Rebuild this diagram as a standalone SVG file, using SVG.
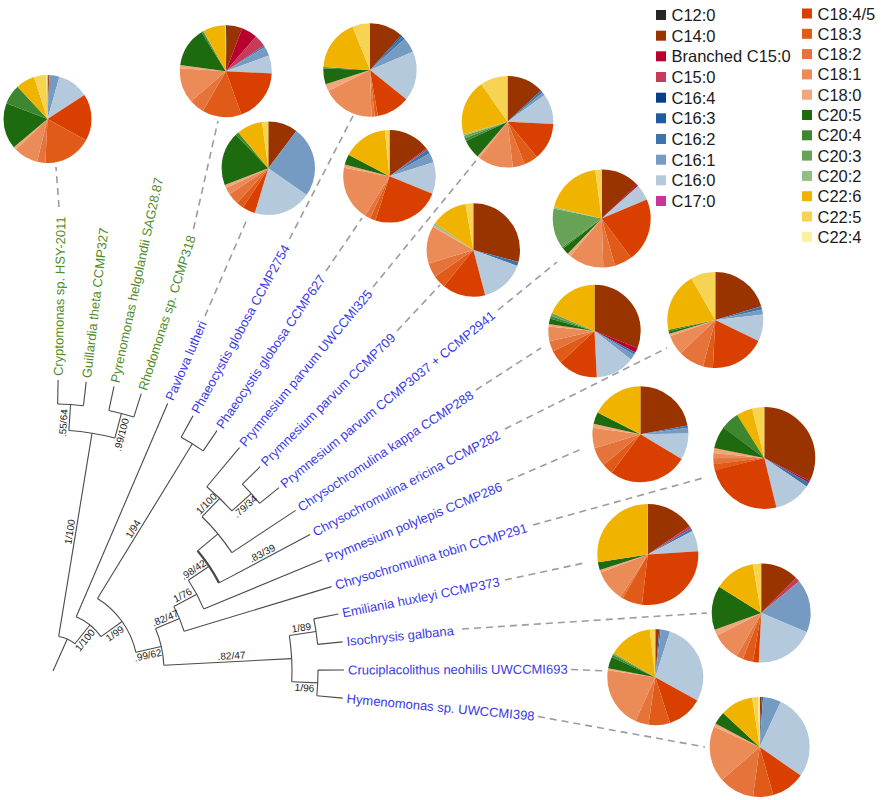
<svg xmlns="http://www.w3.org/2000/svg" width="884" height="800" viewBox="0 0 884 800">
<style>
.t{fill:none;stroke:#4a4a4a;stroke-width:1.1}
.tk{stroke-width:2.2}
.d{fill:none;stroke:#9c9c9c;stroke-width:1.6;stroke-dasharray:7 5}
.g{font-family:"Liberation Sans",Arial,sans-serif;font-size:13px;fill:#4e8c2a}
.b{font-family:"Liberation Sans",Arial,sans-serif;font-size:13px;fill:#3a3ae6}
.sv{font-family:"Liberation Sans",Arial,sans-serif;font-size:10px;fill:#1a1a1a;text-anchor:middle}
.lg{font-family:"Liberation Sans",Arial,sans-serif;font-size:16.5px;fill:#1a1a1a}
.k12{stroke:#262626;fill:#262626}
.k14{stroke:#993300;fill:#993300}
.kb15{stroke:#b8002e;fill:#b8002e}
.k15{stroke:#c8395a;fill:#c8395a}
.k164{stroke:#083f8c;fill:#083f8c}
.k163{stroke:#1d5ca3;fill:#1d5ca3}
.k162{stroke:#3d74ab;fill:#3d74ab}
.k161{stroke:#759bc2;fill:#759bc2}
.k160{stroke:#b5c9dd;fill:#b5c9dd}
.k17{stroke:#cc3399;fill:#cc3399}
.k1845{stroke:#d94000;fill:#d94000}
.k183{stroke:#e05a18;fill:#e05a18}
.k182{stroke:#e5733a;fill:#e5733a}
.k181{stroke:#eb8b57;fill:#eb8b57}
.k180{stroke:#f1a67b;fill:#f1a67b}
.k205{stroke:#1e6a0e;fill:#1e6a0e}
.k204{stroke:#3d8730;fill:#3d8730}
.k203{stroke:#66a356;fill:#66a356}
.k202{stroke:#94bd85;fill:#94bd85}
.k226{stroke:#f0b400;fill:#f0b400}
.k225{stroke:#f6d350;fill:#f6d350}
.k224{stroke:#fbf0a0;fill:#fbf0a0}
.x{fill:none}
.sw{stroke:none}
</style>
<rect width="884" height="800" fill="#ffffff"/>

<g id="connectors">
<g id="tree" class="t">
<path d="M53,671 L67.27,639.04"/>
<path d="M58.67,636.46 A35,35 0 0 1 74.93,643.72"/>
<path d="M58.67,636.46 L92.05,433.18"/>
<path d="M68.87,430.52 A241,241 0 0 1 114.87,438.08"/>
<path d="M68.87,430.52 L70.58,404.58"/>
<path d="M57.66,404.04 A267,267 0 0 1 83.45,405.74"/>
<path d="M57.66,404.04 L58.08,380.04"/>
<path d="M83.45,405.74 L86.19,381.9"/>
<path d="M114.87,438.08 L121.42,413.43"/>
<path d="M108.86,410.42 A266.5,266.5 0 0 1 133.82,417.05"/>
<path d="M108.86,410.42 L114,386.47"/>
<path d="M133.82,417.05 L141.25,393.7"/>
<path d="M74.93,643.72 L89.97,625.02"/>
<path d="M76.24,616.77 A59,59 0 0 1 100.97,636.65"/>
<path d="M76.24,616.77 L167.64,403.53"/>
<path d="M100.97,636.65 L122.11,621.52"/>
<path d="M97.44,598.54 A85,85 0 0 1 135.91,652.27"/>
<path d="M97.44,598.54 L192.34,443.83"/>
<path d="M181.18,437.35 A266.5,266.5 0 0 1 203.18,450.84"/>
<path d="M181.18,437.35 L192.97,415.87"/>
<path d="M203.18,450.84 L216.99,430.6"/>
<path d="M135.91,652.27 L161.27,646.54"/>
<path d="M155.56,628.55 A111,111 0 0 1 163.85,665.24"/>
<path d="M163.85,665.24 L291.68,658.6"/>
<path d="M289.36,635.57 A239,239 0 0 1 291.76,681.74"/>
<path d="M289.36,635.57 L316.06,631.57"/>
<path d="M313.84,618.88 A266,266 0 0 1 317.66,644.35"/>
<path d="M313.84,618.88 L338.36,613.98"/>
<path d="M317.66,644.35 L342.54,641.84"/>
<path d="M291.76,681.74 L317.73,682.91"/>
<path d="M318,670.08 A265,265 0 0 1 316.84,695.71"/>
<path d="M318,670.08 L344,669.98"/>
<path d="M316.84,695.71 L342.73,698.13"/>
<path d="M155.56,628.55 L179.59,618.6"/>
<path d="M173.83,606.42 A137,137 0 0 1 184.12,631.29"/>
<path d="M184.12,631.29 L331.51,586.65"/>
<path d="M173.83,606.42 L196.76,594.17"/>
<path d="M188.38,580.22 A163,163 0 0 1 203.7,608.89"/>
<path d="M203.7,608.89 L322.04,560.11"/>
<path d="M188.38,580.22 L209.14,566.29"/>
<path class="tk" d="M197.56,550.81 A188,188 0 0 1 219.07,582.88"/>
<path d="M219.07,582.88 L310.06,534.61"/>
<path d="M197.56,550.81 L217.94,533.87"/>
<path d="M202.04,516.73 A214.5,214.5 0 0 1 231.87,552.61"/>
<path d="M231.87,552.61 L295.66,510.39"/>
<path d="M202.04,516.73 L219.76,498.39"/>
<path d="M206.79,486.75 A240,240 0 0 1 231.84,510.95"/>
<path d="M206.79,486.75 L239.47,447.59"/>
<path d="M231.84,510.95 L251.22,493.62"/>
<path d="M242.4,484.23 A266,266 0 0 1 259.58,503.42"/>
<path d="M242.4,484.23 L260.2,466.67"/>
<path d="M259.58,503.42 L278.99,487.67"/>
</g>
<g id="support" class="sv">
<text transform="translate(75.68 532.85) rotate(-80.675)" y="-2.5">1/100</text>
<text transform="translate(69.33 423.54) rotate(-86.225)" y="-2.5">.55/64</text>
<text transform="translate(116.15 433.24) rotate(-75.125)" y="9">.99/100</text>
<text transform="translate(80.57 636.71) rotate(-51.2)" y="9">1/100</text>
<text transform="translate(111.54 629.09) rotate(-35.6)" y="9">1/99</text>
<text transform="translate(138.23 532.06) rotate(-58.475)" y="-2.5">1/94</text>
<text transform="translate(146.64 649.85) rotate(-12.73)" y="9">.99/62</text>
<text transform="translate(167.57 623.57) rotate(-22.486)" y="-2.5">.82/47</text>
<text transform="translate(185.29 600.3) rotate(-28.12)" y="-2.5">1/76</text>
<text transform="translate(196.68 574.65) rotate(-33.845)" y="-2.5">.98/42</text>
<text transform="translate(265 558.51) rotate(-27.95)" y="-2.5">.83/39</text>
<text transform="translate(210.7 507.74) rotate(-45.99)" y="-2.5">1/100</text>
<text transform="translate(241.53 502.28) rotate(-41.825)" y="9">.79/34</text>
<text transform="translate(231.76 661.7) rotate(-2.975)" y="-2.5">.82/47</text>
<text transform="translate(302.22 633.64) rotate(-8.525)" y="-2.5">1/89</text>
<text transform="translate(304.75 682.32) rotate(2.575)" y="9">1/96</text>
</g>
<g id="leaders" class="d">
<path d="M59,207 L56,167"/>
<path d="M193.5,229 L218,121"/>
<path d="M205,316 L248,217"/>
<path d="M289.5,239 L353,116"/>
<path d="M326,271 L362,218"/>
<path d="M373,287 L479,157"/>
<path d="M397,331 L440,285"/>
<path d="M498,310 L557,262"/>
<path d="M476,390 L541,348"/>
<path d="M505,429 L667,348"/>
<path d="M507,481 L584,448"/>
<path d="M533,525 L703,478"/>
<path d="M505,580 L584,563"/>
<path d="M462,629 L707,613"/>
<path d="M571,669.5 L607,671"/>
<path d="M538,716.5 L705,747"/>
</g>
</g>

<g id="taxon-cryptomonas">
<text class="g" transform="translate(58.15 376.04) rotate(-89)" y="4.5">Cryptomonas sp. HSY-2011</text>
<g transform="translate(47.5 119) rotate(-90)" stroke-width="44">
<circle class="x k12" r="22" pathLength="360" stroke-dasharray="1 360" stroke-dashoffset="0"/>
<circle class="x k14" r="22" pathLength="360" stroke-dasharray="1.5 360" stroke-dashoffset="-1"/>
<circle class="x k161" r="22" pathLength="360" stroke-dasharray="13.5 360" stroke-dashoffset="-2.5"/>
<circle class="x k160" r="22" pathLength="360" stroke-dasharray="41 360" stroke-dashoffset="-16"/>
<circle class="x k1845" r="22" pathLength="360" stroke-dasharray="62 360" stroke-dashoffset="-57"/>
<circle class="x k183" r="22" pathLength="360" stroke-dasharray="64 360" stroke-dashoffset="-119"/>
<circle class="x k182" r="22" pathLength="360" stroke-dasharray="11 360" stroke-dashoffset="-183"/>
<circle class="x k181" r="22" pathLength="360" stroke-dasharray="32 360" stroke-dashoffset="-194"/>
<circle class="x k180" r="22" pathLength="360" stroke-dasharray="4 360" stroke-dashoffset="-226"/>
<circle class="x k205" r="22" pathLength="360" stroke-dasharray="61 360" stroke-dashoffset="-230"/>
<circle class="x k204" r="22" pathLength="360" stroke-dasharray="26 360" stroke-dashoffset="-291"/>
<circle class="x k226" r="22" pathLength="360" stroke-dasharray="25 360" stroke-dashoffset="-317"/>
<circle class="x k225" r="22" pathLength="360" stroke-dasharray="16.5 360" stroke-dashoffset="-342"/>
<circle class="x k224" r="22" pathLength="360" stroke-dasharray="1.5 360" stroke-dashoffset="-358.5"/>
</g>
</g>

<g id="taxon-guillardia">
<text class="g" transform="translate(86.64 377.93) rotate(-83.45)" y="4.5">Guillardia theta CCMP327</text>
</g>

<g id="taxon-pyrenomonas">
<text class="g" transform="translate(114.84 382.55) rotate(-77.9)" y="4.5">Pyrenomonas helgolandii SAG28.87</text>
</g>

<g id="taxon-rhodomonas">
<text class="g" transform="translate(142.46 389.89) rotate(-72.35)" y="4.5">Rhodomonas sp. CCMP318</text>
<g transform="translate(225.8 71.2) rotate(-90)" stroke-width="46">
<circle class="x k12" r="23" pathLength="360" stroke-dasharray="1.5 360" stroke-dashoffset="0"/>
<circle class="x k14" r="23" pathLength="360" stroke-dasharray="19.5 360" stroke-dashoffset="-1.5"/>
<circle class="x kb15" r="23" pathLength="360" stroke-dasharray="20 360" stroke-dashoffset="-21"/>
<circle class="x k15" r="23" pathLength="360" stroke-dasharray="15 360" stroke-dashoffset="-41"/>
<circle class="x k162" r="23" pathLength="360" stroke-dasharray="2 360" stroke-dashoffset="-56"/>
<circle class="x k161" r="23" pathLength="360" stroke-dasharray="12 360" stroke-dashoffset="-58"/>
<circle class="x k160" r="23" pathLength="360" stroke-dasharray="23 360" stroke-dashoffset="-70"/>
<circle class="x k1845" r="23" pathLength="360" stroke-dasharray="67 360" stroke-dashoffset="-93"/>
<circle class="x k183" r="23" pathLength="360" stroke-dasharray="50 360" stroke-dashoffset="-160"/>
<circle class="x k182" r="23" pathLength="360" stroke-dasharray="19 360" stroke-dashoffset="-210"/>
<circle class="x k181" r="23" pathLength="360" stroke-dasharray="45 360" stroke-dashoffset="-229"/>
<circle class="x k180" r="23" pathLength="360" stroke-dasharray="4 360" stroke-dashoffset="-274"/>
<circle class="x k205" r="23" pathLength="360" stroke-dasharray="50 360" stroke-dashoffset="-278"/>
<circle class="x k204" r="23" pathLength="360" stroke-dasharray="2 360" stroke-dashoffset="-328"/>
<circle class="x k203" r="23" pathLength="360" stroke-dasharray="1 360" stroke-dashoffset="-330"/>
<circle class="x k226" r="23" pathLength="360" stroke-dasharray="28 360" stroke-dashoffset="-331"/>
<circle class="x k225" r="23" pathLength="360" stroke-dasharray="1 360" stroke-dashoffset="-359"/>
</g>
</g>

<g id="taxon-pavlova">
<text class="b" transform="translate(169.21 399.85) rotate(-66.8)" y="4.5">Pavlova lutheri</text>
<g transform="translate(268.3 168.3) rotate(-90)" stroke-width="46.7">
<circle class="x k14" r="23.35" pathLength="360" stroke-dasharray="37 360" stroke-dashoffset="0"/>
<circle class="x k161" r="23.35" pathLength="360" stroke-dasharray="88 360" stroke-dashoffset="-37"/>
<circle class="x k160" r="23.35" pathLength="360" stroke-dasharray="72 360" stroke-dashoffset="-125"/>
<circle class="x k1845" r="23.35" pathLength="360" stroke-dasharray="16 360" stroke-dashoffset="-197"/>
<circle class="x k183" r="23.35" pathLength="360" stroke-dasharray="9 360" stroke-dashoffset="-213"/>
<circle class="x k182" r="23.35" pathLength="360" stroke-dasharray="14 360" stroke-dashoffset="-222"/>
<circle class="x k181" r="23.35" pathLength="360" stroke-dasharray="9 360" stroke-dashoffset="-236"/>
<circle class="x k180" r="23.35" pathLength="360" stroke-dasharray="4 360" stroke-dashoffset="-245"/>
<circle class="x k205" r="23.35" pathLength="360" stroke-dasharray="67 360" stroke-dashoffset="-249"/>
<circle class="x k204" r="23.35" pathLength="360" stroke-dasharray="4 360" stroke-dashoffset="-316"/>
<circle class="x k226" r="23.35" pathLength="360" stroke-dasharray="32 360" stroke-dashoffset="-320"/>
<circle class="x k225" r="23.35" pathLength="360" stroke-dasharray="8 360" stroke-dashoffset="-352"/>
</g>
</g>

<g id="taxon-phaeocystis-2754">
<text class="b" transform="translate(194.89 412.36) rotate(-61.25)" y="4.5">Phaeocystis globosa CCMP2754</text>
<g transform="translate(370 70) rotate(-90)" stroke-width="46.7">
<circle class="x k14" r="23.35" pathLength="360" stroke-dasharray="42 360" stroke-dashoffset="0"/>
<circle class="x k163" r="23.35" pathLength="360" stroke-dasharray="2 360" stroke-dashoffset="-42"/>
<circle class="x k162" r="23.35" pathLength="360" stroke-dasharray="4 360" stroke-dashoffset="-44"/>
<circle class="x k161" r="23.35" pathLength="360" stroke-dasharray="19 360" stroke-dashoffset="-48"/>
<circle class="x k160" r="23.35" pathLength="360" stroke-dasharray="62 360" stroke-dashoffset="-67"/>
<circle class="x k1845" r="23.35" pathLength="360" stroke-dasharray="41 360" stroke-dashoffset="-129"/>
<circle class="x k183" r="23.35" pathLength="360" stroke-dasharray="4 360" stroke-dashoffset="-170"/>
<circle class="x k182" r="23.35" pathLength="360" stroke-dasharray="4 360" stroke-dashoffset="-174"/>
<circle class="x k181" r="23.35" pathLength="360" stroke-dasharray="65 360" stroke-dashoffset="-178"/>
<circle class="x k180" r="23.35" pathLength="360" stroke-dasharray="9 360" stroke-dashoffset="-243"/>
<circle class="x k205" r="23.35" pathLength="360" stroke-dasharray="20 360" stroke-dashoffset="-252"/>
<circle class="x k204" r="23.35" pathLength="360" stroke-dasharray="2 360" stroke-dashoffset="-272"/>
<circle class="x k226" r="23.35" pathLength="360" stroke-dasharray="64 360" stroke-dashoffset="-274"/>
<circle class="x k225" r="23.35" pathLength="360" stroke-dasharray="22 360" stroke-dashoffset="-338"/>
</g>
</g>

<g id="taxon-phaeocystis-627">
<text class="b" transform="translate(219.24 427.3) rotate(-55.7)" y="4.5">Phaeocystis globosa CCMP627</text>
<g transform="translate(389.5 176.3) rotate(-90)" stroke-width="46.3">
<circle class="x k14" r="23.15" pathLength="360" stroke-dasharray="53 360" stroke-dashoffset="0"/>
<circle class="x k15" r="23.15" pathLength="360" stroke-dasharray="2 360" stroke-dashoffset="-53"/>
<circle class="x k162" r="23.15" pathLength="360" stroke-dasharray="5 360" stroke-dashoffset="-55"/>
<circle class="x k161" r="23.15" pathLength="360" stroke-dasharray="12 360" stroke-dashoffset="-60"/>
<circle class="x k160" r="23.15" pathLength="360" stroke-dasharray="40 360" stroke-dashoffset="-72"/>
<circle class="x k1845" r="23.15" pathLength="360" stroke-dasharray="86 360" stroke-dashoffset="-112"/>
<circle class="x k183" r="23.15" pathLength="360" stroke-dasharray="7 360" stroke-dashoffset="-198"/>
<circle class="x k182" r="23.15" pathLength="360" stroke-dasharray="7 360" stroke-dashoffset="-205"/>
<circle class="x k181" r="23.15" pathLength="360" stroke-dasharray="69 360" stroke-dashoffset="-212"/>
<circle class="x k180" r="23.15" pathLength="360" stroke-dasharray="4 360" stroke-dashoffset="-281"/>
<circle class="x k205" r="23.15" pathLength="360" stroke-dasharray="13 360" stroke-dashoffset="-285"/>
<circle class="x k226" r="23.15" pathLength="360" stroke-dasharray="56 360" stroke-dashoffset="-298"/>
<circle class="x k225" r="23.15" pathLength="360" stroke-dasharray="6 360" stroke-dashoffset="-354"/>
</g>
</g>

<g id="taxon-prymnesium-uwccmi325">
<text class="b" transform="translate(242.03 444.52) rotate(-50.15)" y="4.5">Prymnesium parvum UWCCMI325</text>
<g transform="translate(507.5 121.8) rotate(-90)" stroke-width="45.8">
<circle class="x k14" r="22.9" pathLength="360" stroke-dasharray="47 360" stroke-dashoffset="0"/>
<circle class="x k162" r="22.9" pathLength="360" stroke-dasharray="3 360" stroke-dashoffset="-47"/>
<circle class="x k161" r="22.9" pathLength="360" stroke-dasharray="4 360" stroke-dashoffset="-50"/>
<circle class="x k160" r="22.9" pathLength="360" stroke-dasharray="39 360" stroke-dashoffset="-54"/>
<circle class="x k1845" r="22.9" pathLength="360" stroke-dasharray="47 360" stroke-dashoffset="-93"/>
<circle class="x k183" r="22.9" pathLength="360" stroke-dasharray="18 360" stroke-dashoffset="-140"/>
<circle class="x k182" r="22.9" pathLength="360" stroke-dasharray="15 360" stroke-dashoffset="-158"/>
<circle class="x k181" r="22.9" pathLength="360" stroke-dasharray="45 360" stroke-dashoffset="-173"/>
<circle class="x k180" r="22.9" pathLength="360" stroke-dasharray="3 360" stroke-dashoffset="-218"/>
<circle class="x k205" r="22.9" pathLength="360" stroke-dasharray="24 360" stroke-dashoffset="-221"/>
<circle class="x k204" r="22.9" pathLength="360" stroke-dasharray="4 360" stroke-dashoffset="-245"/>
<circle class="x k203" r="22.9" pathLength="360" stroke-dasharray="3 360" stroke-dashoffset="-249"/>
<circle class="x k202" r="22.9" pathLength="360" stroke-dasharray="2 360" stroke-dashoffset="-252"/>
<circle class="x k226" r="22.9" pathLength="360" stroke-dasharray="71 360" stroke-dashoffset="-254"/>
<circle class="x k225" r="22.9" pathLength="360" stroke-dasharray="35 360" stroke-dashoffset="-325"/>
</g>
</g>

<g id="taxon-prymnesium-ccmp709">
<text class="b" transform="translate(263.05 463.86) rotate(-44.6)" y="4.5">Prymnesium parvum CCMP709</text>
<g transform="translate(473.3 250) rotate(-90)" stroke-width="46.7">
<circle class="x k14" r="23.35" pathLength="360" stroke-dasharray="105 360" stroke-dashoffset="0"/>
<circle class="x k162" r="23.35" pathLength="360" stroke-dasharray="5 360" stroke-dashoffset="-105"/>
<circle class="x k160" r="23.35" pathLength="360" stroke-dasharray="55 360" stroke-dashoffset="-110"/>
<circle class="x k1845" r="23.35" pathLength="360" stroke-dasharray="54 360" stroke-dashoffset="-165"/>
<circle class="x k183" r="23.35" pathLength="360" stroke-dasharray="16 360" stroke-dashoffset="-219"/>
<circle class="x k182" r="23.35" pathLength="360" stroke-dasharray="18 360" stroke-dashoffset="-235"/>
<circle class="x k181" r="23.35" pathLength="360" stroke-dasharray="47 360" stroke-dashoffset="-253"/>
<circle class="x k180" r="23.35" pathLength="360" stroke-dasharray="2 360" stroke-dashoffset="-300"/>
<circle class="x k202" r="23.35" pathLength="360" stroke-dasharray="3 360" stroke-dashoffset="-302"/>
<circle class="x k226" r="23.35" pathLength="360" stroke-dasharray="45 360" stroke-dashoffset="-305"/>
<circle class="x k225" r="23.35" pathLength="360" stroke-dasharray="10 360" stroke-dashoffset="-350"/>
</g>
</g>

<g id="taxon-prymnesium-ccmp3037">
<text class="b" transform="translate(282.1 485.15) rotate(-39.05)" y="4.5">Prymnesium parvum CCMP3037 + CCMP2941</text>
<g transform="translate(601.7 218.5) rotate(-90)" stroke-width="49">
<circle class="x k14" r="24.5" pathLength="360" stroke-dasharray="46 360" stroke-dashoffset="0"/>
<circle class="x kb15" r="24.5" pathLength="360" stroke-dasharray="2 360" stroke-dashoffset="-46"/>
<circle class="x k160" r="24.5" pathLength="360" stroke-dasharray="19 360" stroke-dashoffset="-48"/>
<circle class="x k1845" r="24.5" pathLength="360" stroke-dasharray="76 360" stroke-dashoffset="-67"/>
<circle class="x k183" r="24.5" pathLength="360" stroke-dasharray="21 360" stroke-dashoffset="-143"/>
<circle class="x k182" r="24.5" pathLength="360" stroke-dasharray="14 360" stroke-dashoffset="-164"/>
<circle class="x k181" r="24.5" pathLength="360" stroke-dasharray="42 360" stroke-dashoffset="-178"/>
<circle class="x k180" r="24.5" pathLength="360" stroke-dasharray="4 360" stroke-dashoffset="-220"/>
<circle class="x k205" r="24.5" pathLength="360" stroke-dasharray="8 360" stroke-dashoffset="-224"/>
<circle class="x k204" r="24.5" pathLength="360" stroke-dasharray="2 360" stroke-dashoffset="-232"/>
<circle class="x k203" r="24.5" pathLength="360" stroke-dasharray="48 360" stroke-dashoffset="-234"/>
<circle class="x k202" r="24.5" pathLength="360" stroke-dasharray="2 360" stroke-dashoffset="-282"/>
<circle class="x k226" r="24.5" pathLength="360" stroke-dasharray="68 360" stroke-dashoffset="-284"/>
<circle class="x k225" r="24.5" pathLength="360" stroke-dasharray="8 360" stroke-dashoffset="-352"/>
</g>
</g>

<g id="taxon-chrysochromulina-kappa">
<text class="b" transform="translate(299 508.18) rotate(-33.5)" y="4.5">Chrysochromulina kappa CCMP288</text>
<g transform="translate(594.5 331) rotate(-90)" stroke-width="46.2">
<circle class="x k14" r="23.1" pathLength="360" stroke-dasharray="111.5 360" stroke-dashoffset="0"/>
<circle class="x kb15" r="23.1" pathLength="360" stroke-dasharray="6.5 360" stroke-dashoffset="-111.5"/>
<circle class="x k162" r="23.1" pathLength="360" stroke-dasharray="3 360" stroke-dashoffset="-118"/>
<circle class="x k161" r="23.1" pathLength="360" stroke-dasharray="7 360" stroke-dashoffset="-121"/>
<circle class="x k160" r="23.1" pathLength="360" stroke-dasharray="49 360" stroke-dashoffset="-128"/>
<circle class="x k1845" r="23.1" pathLength="360" stroke-dasharray="50 360" stroke-dashoffset="-177"/>
<circle class="x k183" r="23.1" pathLength="360" stroke-dasharray="17 360" stroke-dashoffset="-227"/>
<circle class="x k182" r="23.1" pathLength="360" stroke-dasharray="13 360" stroke-dashoffset="-244"/>
<circle class="x k181" r="23.1" pathLength="360" stroke-dasharray="19 360" stroke-dashoffset="-257"/>
<circle class="x k180" r="23.1" pathLength="360" stroke-dasharray="3 360" stroke-dashoffset="-276"/>
<circle class="x k205" r="23.1" pathLength="360" stroke-dasharray="7 360" stroke-dashoffset="-279"/>
<circle class="x k204" r="23.1" pathLength="360" stroke-dasharray="3 360" stroke-dashoffset="-286"/>
<circle class="x k203" r="23.1" pathLength="360" stroke-dasharray="4 360" stroke-dashoffset="-289"/>
<circle class="x k226" r="23.1" pathLength="360" stroke-dasharray="67 360" stroke-dashoffset="-293"/>
</g>
</g>

<g id="taxon-chrysochromulina-ericina">
<text class="b" transform="translate(313.59 532.73) rotate(-27.95)" y="4.5">Chrysochromulina ericina CCMP282</text>
<g transform="translate(715.3 320) rotate(-90)" stroke-width="48">
<circle class="x k14" r="24" pathLength="360" stroke-dasharray="73 360" stroke-dashoffset="0"/>
<circle class="x k162" r="24" pathLength="360" stroke-dasharray="4 360" stroke-dashoffset="-73"/>
<circle class="x k161" r="24" pathLength="360" stroke-dasharray="6 360" stroke-dashoffset="-77"/>
<circle class="x k160" r="24" pathLength="360" stroke-dasharray="33 360" stroke-dashoffset="-83"/>
<circle class="x k1845" r="24" pathLength="360" stroke-dasharray="67 360" stroke-dashoffset="-116"/>
<circle class="x k183" r="24" pathLength="360" stroke-dasharray="12 360" stroke-dashoffset="-183"/>
<circle class="x k182" r="24" pathLength="360" stroke-dasharray="31 360" stroke-dashoffset="-195"/>
<circle class="x k181" r="24" pathLength="360" stroke-dasharray="24 360" stroke-dashoffset="-226"/>
<circle class="x k180" r="24" pathLength="360" stroke-dasharray="3 360" stroke-dashoffset="-250"/>
<circle class="x k205" r="24" pathLength="360" stroke-dasharray="3 360" stroke-dashoffset="-253"/>
<circle class="x k204" r="24" pathLength="360" stroke-dasharray="2 360" stroke-dashoffset="-256"/>
<circle class="x k226" r="24" pathLength="360" stroke-dasharray="72 360" stroke-dashoffset="-258"/>
<circle class="x k225" r="24" pathLength="360" stroke-dasharray="30 360" stroke-dashoffset="-330"/>
</g>
</g>

<g id="taxon-prymnesium-polylepis">
<text class="b" transform="translate(325.74 558.58) rotate(-22.4)" y="4.5">Prymnesium polylepis CCMP286</text>
<g transform="translate(640.4 434.3) rotate(-90)" stroke-width="48">
<circle class="x k14" r="24" pathLength="360" stroke-dasharray="79 360" stroke-dashoffset="0"/>
<circle class="x k162" r="24" pathLength="360" stroke-dasharray="3 360" stroke-dashoffset="-79"/>
<circle class="x k161" r="24" pathLength="360" stroke-dasharray="7 360" stroke-dashoffset="-82"/>
<circle class="x k160" r="24" pathLength="360" stroke-dasharray="32 360" stroke-dashoffset="-89"/>
<circle class="x k1845" r="24" pathLength="360" stroke-dasharray="96 360" stroke-dashoffset="-121"/>
<circle class="x k183" r="24" pathLength="360" stroke-dasharray="13 360" stroke-dashoffset="-217"/>
<circle class="x k182" r="24" pathLength="360" stroke-dasharray="23 360" stroke-dashoffset="-230"/>
<circle class="x k181" r="24" pathLength="360" stroke-dasharray="25 360" stroke-dashoffset="-253"/>
<circle class="x k180" r="24" pathLength="360" stroke-dasharray="5 360" stroke-dashoffset="-278"/>
<circle class="x k205" r="24" pathLength="360" stroke-dasharray="14 360" stroke-dashoffset="-283"/>
<circle class="x k226" r="24" pathLength="360" stroke-dasharray="63 360" stroke-dashoffset="-297"/>
</g>
</g>

<g id="taxon-chrysochromulina-tobin">
<text class="b" transform="translate(335.34 585.49) rotate(-16.85)" y="4.5">Chrysochromulina tobin CCMP291</text>
<g transform="translate(764.3 458) rotate(-90)" stroke-width="51">
<circle class="x k14" r="25.5" pathLength="360" stroke-dasharray="117 360" stroke-dashoffset="0"/>
<circle class="x kb15" r="25.5" pathLength="360" stroke-dasharray="2 360" stroke-dashoffset="-117"/>
<circle class="x k162" r="25.5" pathLength="360" stroke-dasharray="5 360" stroke-dashoffset="-119"/>
<circle class="x k160" r="25.5" pathLength="360" stroke-dasharray="42 360" stroke-dashoffset="-124"/>
<circle class="x k1845" r="25.5" pathLength="360" stroke-dasharray="90 360" stroke-dashoffset="-166"/>
<circle class="x k183" r="25.5" pathLength="360" stroke-dasharray="7.5 360" stroke-dashoffset="-255.5"/>
<circle class="x k182" r="25.5" pathLength="360" stroke-dasharray="7.5 360" stroke-dashoffset="-262.5"/>
<circle class="x k181" r="25.5" pathLength="360" stroke-dasharray="6.5 360" stroke-dashoffset="-269.5"/>
<circle class="x k180" r="25.5" pathLength="360" stroke-dasharray="6.5 360" stroke-dashoffset="-275.5"/>
<circle class="x k205" r="25.5" pathLength="360" stroke-dasharray="25.5 360" stroke-dashoffset="-281.5"/>
<circle class="x k204" r="25.5" pathLength="360" stroke-dasharray="21.5 360" stroke-dashoffset="-306.5"/>
<circle class="x k226" r="25.5" pathLength="360" stroke-dasharray="18.5 360" stroke-dashoffset="-327.5"/>
<circle class="x k225" r="25.5" pathLength="360" stroke-dasharray="14.5 360" stroke-dashoffset="-345.5"/>
</g>
</g>

<g id="taxon-emiliania">
<text class="b" transform="translate(342.28 613.19) rotate(-11.3)" y="4.5">Emiliania huxleyi CCMP373</text>
<g transform="translate(647.8 554.5) rotate(-90)" stroke-width="50.5">
<circle class="x k14" r="25.25" pathLength="360" stroke-dasharray="56 360" stroke-dashoffset="0"/>
<circle class="x k15" r="25.25" pathLength="360" stroke-dasharray="3 360" stroke-dashoffset="-56"/>
<circle class="x k162" r="25.25" pathLength="360" stroke-dasharray="3 360" stroke-dashoffset="-59"/>
<circle class="x k160" r="25.25" pathLength="360" stroke-dasharray="24 360" stroke-dashoffset="-62"/>
<circle class="x k1845" r="25.25" pathLength="360" stroke-dasharray="101 360" stroke-dashoffset="-86"/>
<circle class="x k183" r="25.25" pathLength="360" stroke-dasharray="23 360" stroke-dashoffset="-187"/>
<circle class="x k182" r="25.25" pathLength="360" stroke-dasharray="3 360" stroke-dashoffset="-210"/>
<circle class="x k181" r="25.25" pathLength="360" stroke-dasharray="36 360" stroke-dashoffset="-213"/>
<circle class="x k180" r="25.25" pathLength="360" stroke-dasharray="3 360" stroke-dashoffset="-249"/>
<circle class="x k205" r="25.25" pathLength="360" stroke-dasharray="9 360" stroke-dashoffset="-252"/>
<circle class="x k226" r="25.25" pathLength="360" stroke-dasharray="99 360" stroke-dashoffset="-261"/>
</g>
</g>

<g id="taxon-isochrysis">
<text class="b" transform="translate(346.52 641.44) rotate(-5.75)" y="4.5">Isochrysis galbana</text>
<g transform="translate(761.2 613) rotate(-90)" stroke-width="49.5">
<circle class="x k14" r="24.75" pathLength="360" stroke-dasharray="45 360" stroke-dashoffset="0"/>
<circle class="x k15" r="24.75" pathLength="360" stroke-dasharray="5 360" stroke-dashoffset="-45"/>
<circle class="x k161" r="24.75" pathLength="360" stroke-dasharray="63 360" stroke-dashoffset="-50"/>
<circle class="x k160" r="24.75" pathLength="360" stroke-dasharray="70 360" stroke-dashoffset="-113"/>
<circle class="x k1845" r="24.75" pathLength="360" stroke-dasharray="7 360" stroke-dashoffset="-183"/>
<circle class="x k183" r="24.75" pathLength="360" stroke-dasharray="12 360" stroke-dashoffset="-190"/>
<circle class="x k182" r="24.75" pathLength="360" stroke-dasharray="8 360" stroke-dashoffset="-202"/>
<circle class="x k181" r="24.75" pathLength="360" stroke-dasharray="33 360" stroke-dashoffset="-210"/>
<circle class="x k180" r="24.75" pathLength="360" stroke-dasharray="7 360" stroke-dashoffset="-243"/>
<circle class="x k205" r="24.75" pathLength="360" stroke-dasharray="52 360" stroke-dashoffset="-250"/>
<circle class="x k226" r="24.75" pathLength="360" stroke-dasharray="48 360" stroke-dashoffset="-302"/>
<circle class="x k225" r="24.75" pathLength="360" stroke-dasharray="10 360" stroke-dashoffset="-350"/>
</g>
</g>

<g id="taxon-cruciplacolithus">
<text class="b" transform="translate(348 669.97) rotate(-0.2)" y="4.5">Cruciplacolithus neohilis UWCCMI693</text>
<g transform="translate(655.3 677.2) rotate(-90)" stroke-width="48">
<circle class="x k14" r="24" pathLength="360" stroke-dasharray="5 360" stroke-dashoffset="0"/>
<circle class="x k162" r="24" pathLength="360" stroke-dasharray="2 360" stroke-dashoffset="-5"/>
<circle class="x k161" r="24" pathLength="360" stroke-dasharray="11 360" stroke-dashoffset="-7"/>
<circle class="x k160" r="24" pathLength="360" stroke-dasharray="101 360" stroke-dashoffset="-18"/>
<circle class="x k1845" r="24" pathLength="360" stroke-dasharray="43 360" stroke-dashoffset="-119"/>
<circle class="x k183" r="24" pathLength="360" stroke-dasharray="26.5 360" stroke-dashoffset="-162"/>
<circle class="x k182" r="24" pathLength="360" stroke-dasharray="16 360" stroke-dashoffset="-188.5"/>
<circle class="x k181" r="24" pathLength="360" stroke-dasharray="74 360" stroke-dashoffset="-204.5"/>
<circle class="x k180" r="24" pathLength="360" stroke-dasharray="2.5 360" stroke-dashoffset="-278.5"/>
<circle class="x k205" r="24" pathLength="360" stroke-dasharray="14 360" stroke-dashoffset="-281"/>
<circle class="x k204" r="24" pathLength="360" stroke-dasharray="3 360" stroke-dashoffset="-295"/>
<circle class="x k203" r="24" pathLength="360" stroke-dasharray="2 360" stroke-dashoffset="-298"/>
<circle class="x k226" r="24" pathLength="360" stroke-dasharray="53 360" stroke-dashoffset="-300"/>
<circle class="x k225" r="24" pathLength="360" stroke-dasharray="7 360" stroke-dashoffset="-353"/>
</g>
</g>

<g id="taxon-hymenomonas">
<text class="b" transform="translate(346.71 698.51) rotate(5.35)" y="4.5">Hymenomonas sp. UWCCMI398</text>
<g transform="translate(759.7 747) rotate(-90)" stroke-width="50">
<circle class="x k14" r="25" pathLength="360" stroke-dasharray="2 360" stroke-dashoffset="0"/>
<circle class="x k163" r="25" pathLength="360" stroke-dasharray="2 360" stroke-dashoffset="-2"/>
<circle class="x k161" r="25" pathLength="360" stroke-dasharray="21 360" stroke-dashoffset="-4"/>
<circle class="x k160" r="25" pathLength="360" stroke-dasharray="100 360" stroke-dashoffset="-25"/>
<circle class="x k1845" r="25" pathLength="360" stroke-dasharray="39 360" stroke-dashoffset="-125"/>
<circle class="x k183" r="25" pathLength="360" stroke-dasharray="24 360" stroke-dashoffset="-164"/>
<circle class="x k182" r="25" pathLength="360" stroke-dasharray="41 360" stroke-dashoffset="-188"/>
<circle class="x k181" r="25" pathLength="360" stroke-dasharray="65 360" stroke-dashoffset="-229"/>
<circle class="x k180" r="25" pathLength="360" stroke-dasharray="4 360" stroke-dashoffset="-294"/>
<circle class="x k205" r="25" pathLength="360" stroke-dasharray="15 360" stroke-dashoffset="-298"/>
<circle class="x k226" r="25" pathLength="360" stroke-dasharray="38 360" stroke-dashoffset="-313"/>
<circle class="x k225" r="25" pathLength="360" stroke-dasharray="7 360" stroke-dashoffset="-351"/>
<circle class="x k224" r="25" pathLength="360" stroke-dasharray="2 360" stroke-dashoffset="-358"/>
</g>
</g>

<g id="legend">
<rect class="k12 sw" x="656" y="10" width="10" height="10"/><text class="lg" x="671.5" y="21">C12:0</text>
<rect class="k14 sw" x="656" y="30.7" width="10" height="10"/><text class="lg" x="671.5" y="41.7">C14:0</text>
<rect class="kb15 sw" x="656" y="51.3" width="10" height="10"/><text class="lg" x="671.5" y="62.3">Branched C15:0</text>
<rect class="k15 sw" x="656" y="72" width="10" height="10"/><text class="lg" x="671.5" y="83">C15:0</text>
<rect class="k164 sw" x="656" y="92.7" width="10" height="10"/><text class="lg" x="671.5" y="103.7">C16:4</text>
<rect class="k163 sw" x="656" y="113.3" width="10" height="10"/><text class="lg" x="671.5" y="124.3">C16:3</text>
<rect class="k162 sw" x="656" y="134" width="10" height="10"/><text class="lg" x="671.5" y="145">C16:2</text>
<rect class="k161 sw" x="656" y="154.7" width="10" height="10"/><text class="lg" x="671.5" y="165.7">C16:1</text>
<rect class="k160 sw" x="656" y="175.3" width="10" height="10"/><text class="lg" x="671.5" y="186.3">C16:0</text>
<rect class="k17 sw" x="656" y="196" width="10" height="10"/><text class="lg" x="671.5" y="207">C17:0</text>
<rect class="k1845 sw" x="802" y="8.5" width="10" height="10"/><text class="lg" x="817.5" y="19.5">C18:4/5</text>
<rect class="k183 sw" x="802" y="28.8" width="10" height="10"/><text class="lg" x="817.5" y="39.8">C18:3</text>
<rect class="k182 sw" x="802" y="49.1" width="10" height="10"/><text class="lg" x="817.5" y="60.1">C18:2</text>
<rect class="k181 sw" x="802" y="69.4" width="10" height="10"/><text class="lg" x="817.5" y="80.4">C18:1</text>
<rect class="k180 sw" x="802" y="89.7" width="10" height="10"/><text class="lg" x="817.5" y="100.7">C18:0</text>
<rect class="k205 sw" x="802" y="110" width="10" height="10"/><text class="lg" x="817.5" y="121">C20:5</text>
<rect class="k204 sw" x="802" y="130.3" width="10" height="10"/><text class="lg" x="817.5" y="141.3">C20:4</text>
<rect class="k203 sw" x="802" y="150.6" width="10" height="10"/><text class="lg" x="817.5" y="161.6">C20:3</text>
<rect class="k202 sw" x="802" y="170.9" width="10" height="10"/><text class="lg" x="817.5" y="181.9">C20:2</text>
<rect class="k226 sw" x="802" y="191.2" width="10" height="10"/><text class="lg" x="817.5" y="202.2">C22:6</text>
<rect class="k225 sw" x="802" y="211.5" width="10" height="10"/><text class="lg" x="817.5" y="222.5">C22:5</text>
<rect class="k224 sw" x="802" y="231.8" width="10" height="10"/><text class="lg" x="817.5" y="242.8">C22:4</text>
</g>
</svg>
